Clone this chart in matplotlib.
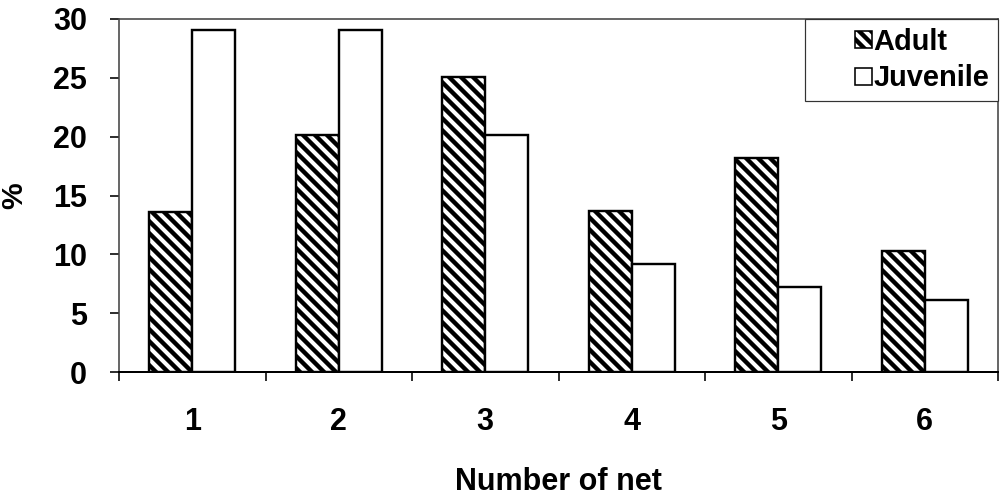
import numpy as np
import matplotlib
matplotlib.use('Agg')
import matplotlib.pyplot as plt
from matplotlib.patches import Rectangle
from matplotlib.container import BarContainer
from matplotlib.legend_handler import HandlerPatch, update_from_first_child

plt.rcParams['font.family'] = ['Liberation Sans', 'DejaVu Sans']
plt.rcParams['font.weight'] = 'bold'
plt.rcParams['hatch.linewidth'] = 2.2

# data
nets = ['1', '2', '3', '4', '5', '6']
adult = [13.6, 20.1, 25.1, 13.7, 18.2, 10.3]
juvenile = [29.1, 29.1, 20.1, 9.2, 7.2, 6.1]

# dpi 144 so the hatch spacing is close to the scan
fig = plt.figure(figsize=(1002 / 144, 496 / 144), dpi=144)
ax = fig.add_axes([119 / 1002, 1 - 372 / 496, 879 / 1002, 353 / 496])

x = np.arange(1, len(nets) + 1)
w = 0.293

ax.bar(x - w / 2, adult, w, color='white', edgecolor='black', hatch='\\\\\\\\',
       linewidth=1.2, label='Adult')
ax.bar(x + w / 2, juvenile, w, color='white', edgecolor='black',
       linewidth=1.2, label='Juvenile')

ax.set_xlim(0.5, 6.5)
ax.set_ylim(0, 30)
ax.set_yticks(range(0, 31, 5))
ax.set_xticks(x)
ax.set_xticklabels(nets)
ax.set_xticks(np.arange(0.5, 6.6, 1), minor=True)

ax.tick_params(axis='x', which='major', length=0, pad=17.5, labelsize=15.25)
ax.tick_params(axis='x', which='minor', length=4.5, width=0.8, direction='out')
ax.tick_params(axis='y', length=4.5, width=0.8, direction='out', pad=11.5,
               labelsize=15.25)

for side in ['top', 'right', 'left']:
    ax.spines[side].set_color('#444444')
    ax.spines[side].set_linewidth(0.8)
    ax.spines[side].set_linestyle((0, (2, 1)))
ax.spines['bottom'].set_color('black')
ax.spines['bottom'].set_linewidth(1.0)

ax.set_xlabel('Number of net', fontsize=15.25, fontweight='bold', labelpad=15)
ax.set_ylabel('%', fontsize=15, fontweight='bold', labelpad=12.5)


# small square key pushed to the right of its slot, like the Excel legend
def square_key(legend, orig_handle, xdescent, ydescent, width, height, fontsize):
    s = height
    return Rectangle((-xdescent + width - s, -ydescent), s, s)


key = HandlerPatch(patch_func=square_key, update_func=update_from_first_child)
leg = ax.legend(loc='upper right', borderaxespad=0, fancybox=False,
                edgecolor='#333333', framealpha=1, fontsize=14.5,
                handlelength=2.0, handleheight=0.52, handletextpad=0.05,
                borderpad=0.3, labelspacing=0.3,
                handler_map={BarContainer: key})
leg.get_frame().set_linewidth(0.6)
for p in leg.get_patches():
    p.set_linewidth(0.8)

fig.savefig('out.png', dpi=144)
